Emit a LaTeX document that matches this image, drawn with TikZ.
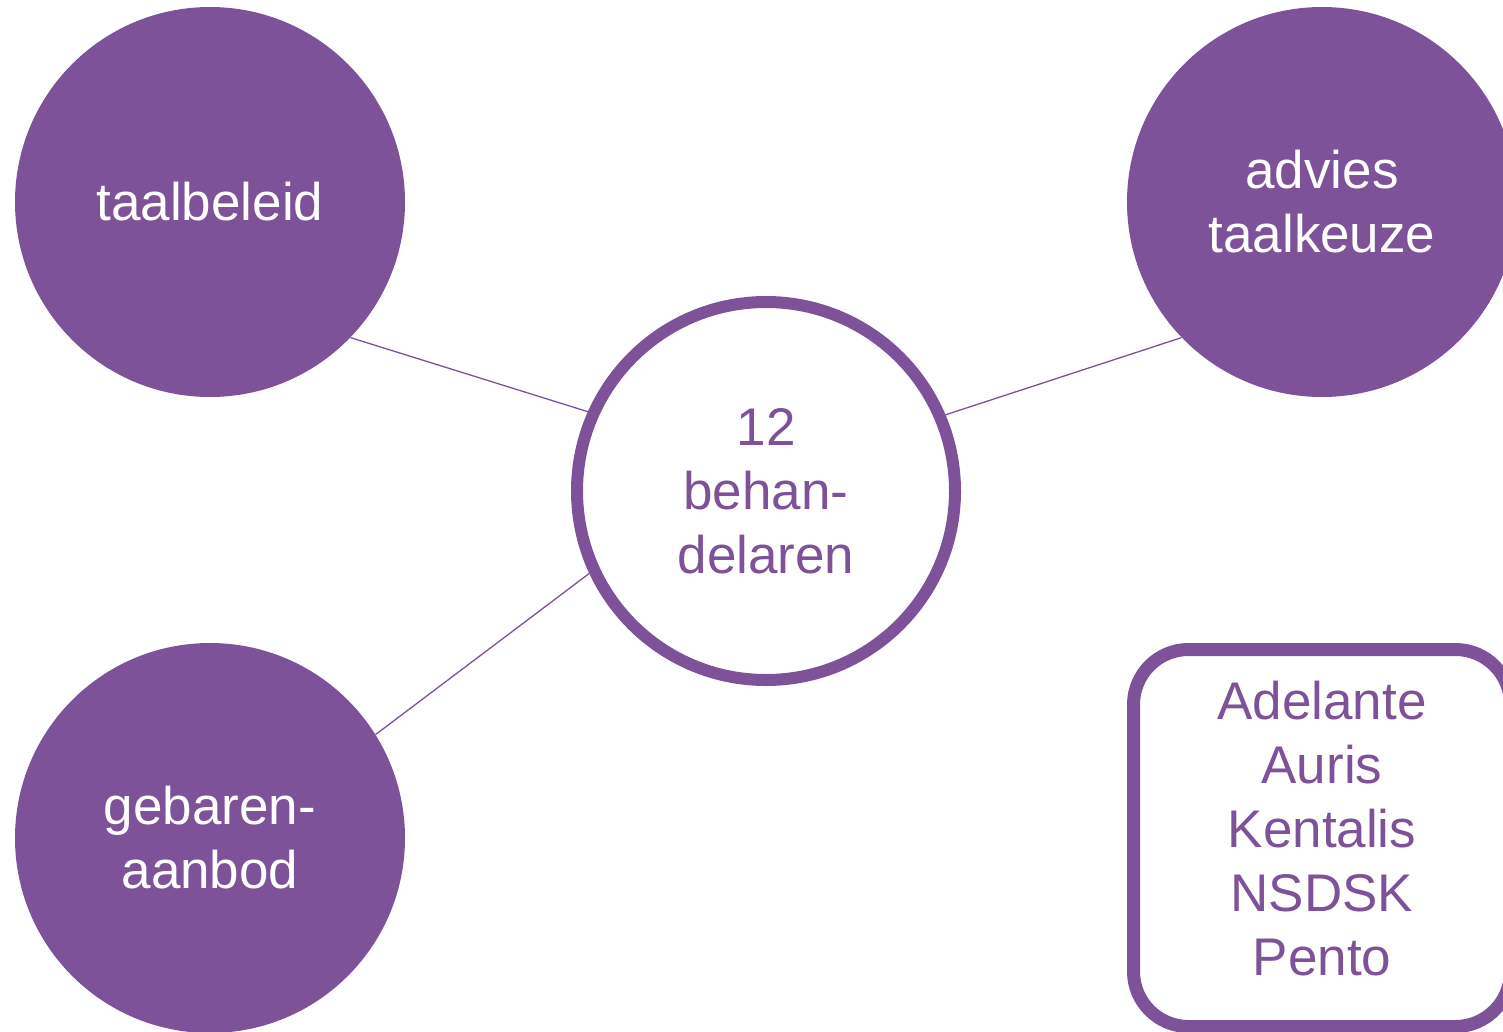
\documentclass[tikz,border=0pt]{standalone}
\usepackage{fontspec}
\setmainfont{Liberation Sans}
\definecolor{paars}{HTML}{7E5299}

\begin{document}
\begin{tikzpicture}[x=1pt, y=-1pt,
    tekst/.style={align=center, inner sep=0pt, font=\fontsize{53}{64}\selectfont},
    bol/.style={tekst, circle, fill=paars, text=white, minimum size=390pt},
    ring/.style={tekst, circle, draw=paars, line width=12pt, fill=white, text=paars, minimum size=378pt},
    lijst/.style={rectangle, rounded corners=55pt, draw=paars, line width=13pt, fill=white, minimum width=377pt, minimum height=377pt},
    lijn/.style={draw=paars, line width=1.3pt}]
            \path[use as bounding box, clip] (0,0) rectangle (1503,1031);
            % kern in het midden
            \node[ring] (kern) at (766,491) {12\\behan-\\delaren};
            % drie bollen
            \node[bol] (beleid) at (210,202) {taalbeleid};
            \node[bol] (advies) at (1322,202) {advies\\taalkeuze};
            \node[bol] (gebaren) at (210,838) {gebaren-\\aanbod};
            % lijst van instellingen
            \node[lijst] (instellingen) at (1322,838) {};
            \node[tekst, text=paars] (namen) at ([yshift=9pt]instellingen.center) {Adelante\\Auris\\Kentalis\\NSDSK\\Pento};

            \draw[lijn] (beleid.-44.6) -- (kern.156.7);
            \draw[lijn] (advies.224.6) -- (kern.23.3);
            \draw[lijn] (gebaren.32.1) -- (kern.205.5);
            \end{tikzpicture}
\end{document}
